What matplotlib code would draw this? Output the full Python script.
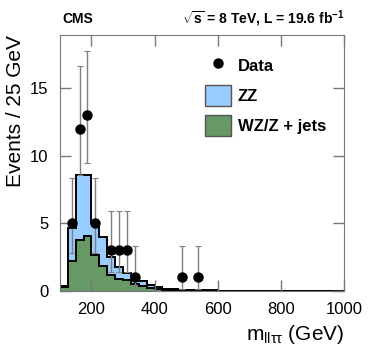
import numpy as np
import matplotlib.pyplot as plt
from matplotlib.patches import Patch
from matplotlib.lines import Line2D

plt.rcParams['font.family'] = ['Liberation Sans', 'DejaVu Sans']
plt.rcParams['mathtext.fontset'] = 'custom'
plt.rcParams['mathtext.rm'] = 'Liberation Sans'
plt.rcParams['mathtext.it'] = 'Liberation Sans:italic'
plt.rcParams['mathtext.bf'] = 'Liberation Sans:bold'

# 25 GeV bins from 100 to 1000 GeV
edges = np.arange(100, 1001, 25)

# WZ/Z + jets (bottom of the stack)
wz_jets = [0.27, 2.24, 3.77, 4.09, 2.66, 1.87, 1.18, 0.85, 0.81, 0.52, 0.37, 0.20,
           0.12, 0.10, 0.08, 0.07, 0.05, 0.04, 0.03, 0.03, 0.02, 0.02, 0.01, 0.01,
           0, 0, 0, 0, 0, 0, 0, 0, 0, 0, 0, 0]
# ZZ (stacked on top)
zz = [0.12, 2.39, 4.80, 4.48, 2.34, 2.13, 1.36, 0.90, 0.50, 0.48, 0.39, 0.24,
      0.15, 0.07, 0.04, 0.03, 0.02, 0.02, 0.01, 0.01, 0.01, 0.01, 0.01, 0.01,
      0, 0, 0, 0, 0, 0, 0, 0, 0, 0, 0, 0]

# data points
data_x = [137.5, 162.5, 187.5, 212.5, 262.5, 287.5, 312.5, 337.5, 487.5, 537.5]
data_y = [5, 12, 13, 5, 3, 3, 3, 1, 1, 1]
err_lo = [2.16, 3.42, 3.58, 2.16, 1.63, 1.63, 1.63, 0.83, 0.83, 0.83]
err_hi = [3.36, 4.61, 4.72, 3.36, 2.92, 2.92, 2.92, 2.30, 2.30, 2.30]

wz_jets = np.array(wz_jets)
total = wz_jets + np.array(zz)

fig = plt.figure(figsize=(3.74, 3.51), dpi=100)
ax = fig.add_axes([0.160, 0.171, 0.760, 0.729])

ax.stairs(total, edges, fill=True, color='#99CCFF')
ax.stairs(wz_jets, edges, fill=True, color='#669966')
ax.stairs(total, edges, color='black', lw=1.4)
ax.stairs(wz_jets, edges, color='black', lw=1.4)

ax.errorbar(data_x, data_y, yerr=[err_lo, err_hi], fmt='o', color='black',
            ecolor='#808080', elinewidth=1.0, capsize=2.5, capthick=0.8,
            markersize=6.5, zorder=5)

ax.set_xlim(100, 1000)
ax.set_ylim(0, 18.9)
ax.set_xticks([200, 400, 600, 800, 1000])
ax.set_yticks([0, 5, 10, 15])
ax.tick_params(direction='in', length=8, width=1, color='#777777',
               top=True, right=True, labelsize=12, pad=8)
for s in ax.spines.values():
    s.set_color('#777777')

ax.set_xlabel(r'm$_{\mathregular{ll\tau\tau}}$ (GeV)', fontsize=15, loc='right')
ax.set_ylabel('Events / 25 GeV', fontsize=15, loc='top')

handles = [Line2D([], [], marker='o', color='black', ls='none', markersize=6.5),
           Patch(facecolor='#99CCFF', edgecolor='#555555'),
           Patch(facecolor='#669966', edgecolor='#555555')]
ax.legend(handles, ['Data', 'ZZ', 'WZ/Z + jets'], loc='upper right',
          bbox_to_anchor=(0.99, 0.98), frameon=False,
          prop={'weight': 'bold', 'size': 12}, handlelength=1.6,
          handleheight=1.6, labelspacing=0.5, handletextpad=0.4)

fig.text(0.168, 0.945, 'CMS', fontsize=10, fontweight='bold', ha='left', va='center')
fig.text(0.920, 0.945, r'$\sqrt{\mathregular{s}}$ = 8 TeV, L = 19.6 fb$^{\mathregular{-1}}$',
         fontsize=10, fontweight='bold', ha='right', va='center')

fig.savefig('out.png', dpi=100)
